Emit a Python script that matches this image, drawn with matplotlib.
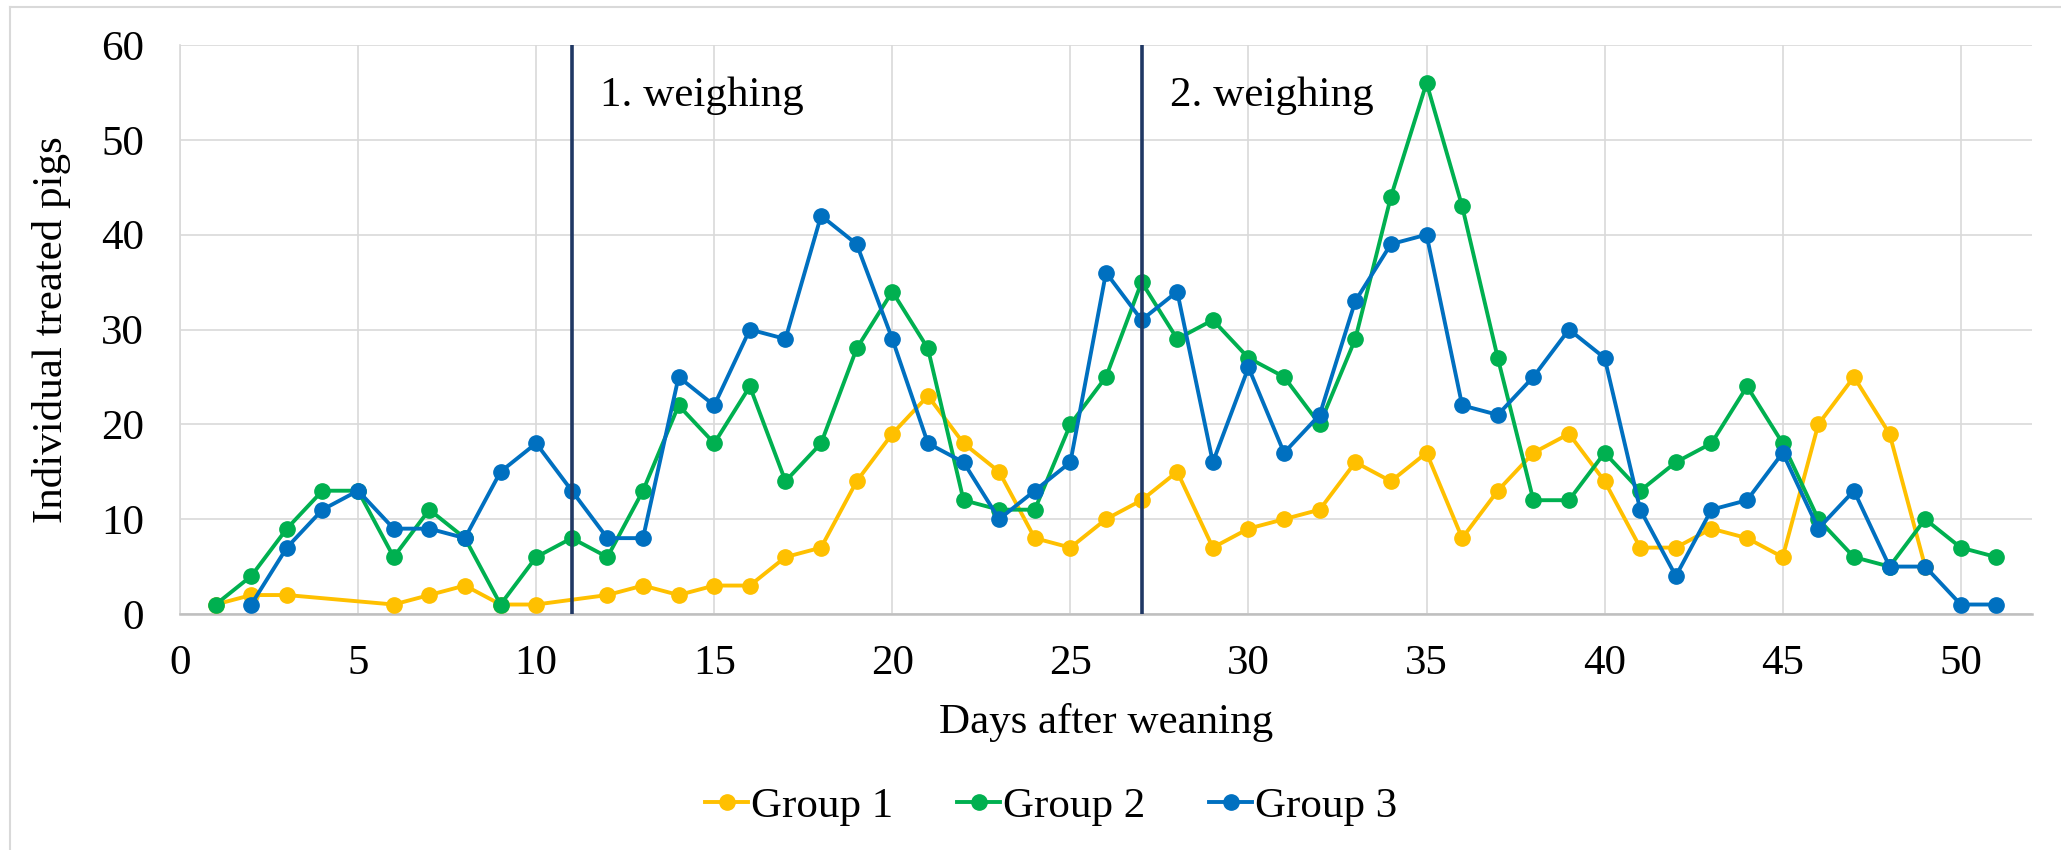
import matplotlib
matplotlib.use("Agg")
import matplotlib.pyplot as plt
from matplotlib.lines import Line2D

plt.rcParams['font.family'] = ['Liberation Serif', 'DejaVu Serif']

# data
days_g1 = [1, 2, 3, 6, 7, 8, 9, 10, 12, 13, 14, 15, 16, 17, 18, 19, 20, 21, 22, 23, 24, 25,
           26, 27, 28, 29, 30, 31, 32, 33, 34, 35, 36, 37, 38, 39, 40, 41, 42, 43, 44, 45,
           46, 47, 48, 49]
group1 = [1, 2, 2, 1, 2, 3, 1, 1, 2, 3, 2, 3, 3, 6, 7, 14, 19, 23, 18, 15, 8, 7,
          10, 12, 15, 7, 9, 10, 11, 16, 14, 17, 8, 13, 17, 19, 14, 7, 7, 9, 8, 6,
          20, 25, 19, 5]

days_g2 = list(range(1, 52))
group2 = [1, 4, 9, 13, 13, 6, 11, 8, 1, 6, 8, 6, 13, 22, 18, 24, 14, 18, 28, 34,
          28, 12, 11, 11, 20, 25, 35, 29, 31, 27, 25, 20, 29, 44, 56, 43, 27, 12, 12, 17,
          13, 16, 18, 24, 18, 10, 6, 5, 10, 7, 6]

days_g3 = list(range(2, 52))
group3 = [1, 7, 11, 13, 9, 9, 8, 15, 18, 13, 8, 8, 25, 22, 30, 29, 42, 39, 29,
          18, 16, 10, 13, 16, 36, 31, 34, 16, 26, 17, 21, 33, 39, 40, 22, 21, 25, 30, 27,
          11, 4, 11, 12, 17, 9, 13, 5, 5, 1, 1]

weighings = [11, 27]
weighing_labels = ["1. weighing", "2. weighing"]

W, H = 2061, 850
fig = plt.figure(figsize=(W / 100, H / 100), dpi=100)
ax = fig.add_axes([180 / W, (H - 614) / H, (2032 - 180) / W, (614 - 45) / H])

fs = 31
grid_c = '#d9d9d9'

ax.plot(days_g1, group1, color='#FFC000', lw=2.8, marker='o', ms=11, label='Group 1', zorder=3)
ax.plot(days_g2, group2, color='#00B050', lw=2.8, marker='o', ms=11, label='Group 2', zorder=4)
ax.plot(days_g3, group3, color='#0070C0', lw=2.8, marker='o', ms=11, label='Group 3', zorder=5)

for d, lab in zip(weighings, weighing_labels):
    ax.axvline(d, color='#203864', lw=2.6, zorder=6)
    ax.text(d + 0.8, 54.7, lab, fontsize=fs, va='center', ha='left')

ax.set_xlim(0, 52)
ax.set_ylim(0, 60)
ax.set_xticks(range(0, 51, 5))
ax.set_yticks(range(0, 61, 10))
ax.grid(True, color=grid_c, lw=1.2, zorder=0)
ax.set_axisbelow(True)
ax.tick_params(length=0, labelsize=fs)
ax.tick_params(axis='y', pad=26)
ax.tick_params(axis='x', pad=22)

for s in ['top', 'right']:
    ax.spines[s].set_visible(False)
ax.spines['left'].set_color(grid_c)
ax.spines['left'].set_linewidth(1.2)
ax.spines['bottom'].set_color('#bfbfbf')
ax.spines['bottom'].set_linewidth(1.8)

fig.text(52 / W, 1 - 330 / H, 'Individual treated pigs', rotation=90, fontsize=fs,
         ha='center', va='center')
fig.text((180 + 2032) / 2 / W, 1 - 723 / H, 'Days after weaning', fontsize=fs,
         ha='center', va='center')

fig.legend(loc='center', bbox_to_anchor=(1051 / W, 1 - 806 / H), ncol=3, frameon=False,
           fontsize=fs, handlelength=1.0, handletextpad=0.05, columnspacing=1.5)

# chart border
fig.add_artist(Line2D([10 / W, 10 / W], [0, 1 - 7 / H], color=grid_c, lw=1.5))
fig.add_artist(Line2D([10 / W, 1], [1 - 7 / H, 1 - 7 / H], color=grid_c, lw=1.5))

fig.savefig('out.png', dpi=100)
